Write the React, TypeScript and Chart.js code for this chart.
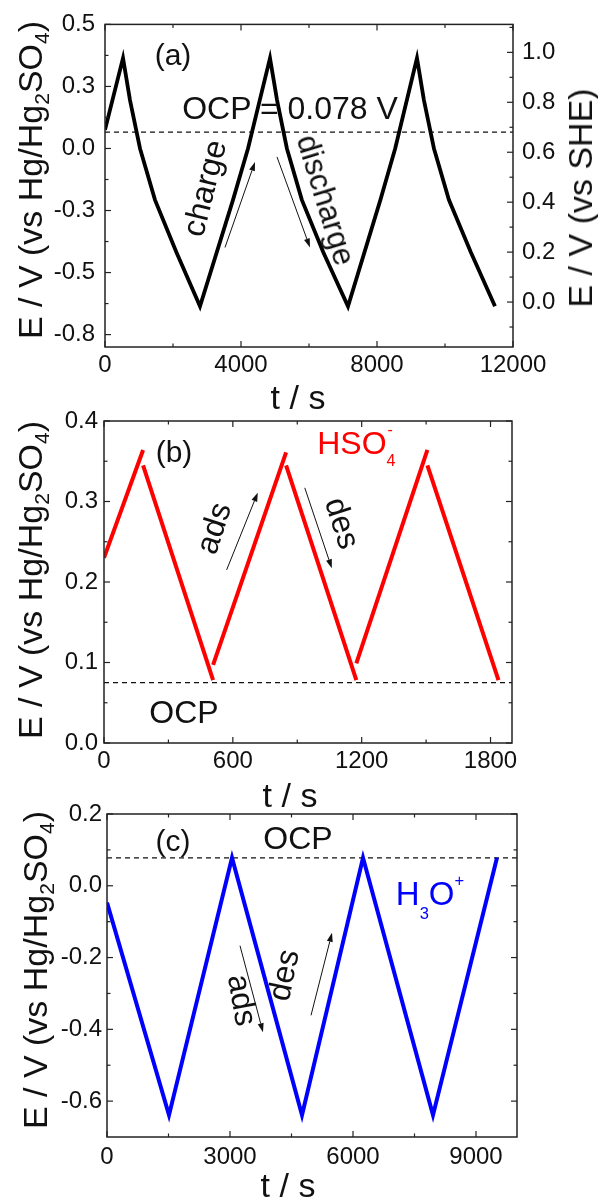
import React, { useEffect, useRef } from "react";
import { Chart, registerables } from "chart.js";

Chart.register(...registerables);

const FONT = "'Liberation Sans', Arial, Helvetica, sans-serif";
const INK = "#111111";

// ---------- Panel (a): charge / discharge ----------
const A_TIME = [0, 530, 735, 1030, 1470, 2100, 2794, 3765, 4206, 4853, 5060, 5350, 5790, 6420, 7147, 8100, 8535, 9176, 9380, 9675, 10115, 10760, 11470];
const A_E = [0.075, 0.364, 0.195, 0.0, -0.207, -0.418, -0.636, -0.207, 0.0, 0.364, 0.195, 0.0, -0.207, -0.418, -0.636, -0.207, 0.0, 0.364, 0.195, 0.0, -0.207, -0.418, -0.636];
const A_OCP = 0.066;
const A_X_TICKS = [0, 4000, 8000, 12000];
const A_X_LABELS = ["0", "4000", "8000", "12000"];
const A_Y_TICKS = [-0.75, -0.5, -0.25, 0, 0.25, 0.5];
const A_Y_LABELS = ["-0.8", "-0.5", "-0.3", "0.0", "0.3", "0.5"];
const A_Y2_TICKS = [0, 0.2, 0.4, 0.6, 0.8, 1.0];
const A_Y2_LABELS = ["0.0", "0.2", "0.4", "0.6", "0.8", "1.0"];
const A_ARROWS = [
  { from: [3529, -0.399], to: [4412, -0.054] },
  { from: [5059, -0.034], to: [6029, -0.399] },
];

// ---------- Panel (b): HSO4- (null = break in the trace) ----------
const B_TIME = [0, 182, 182, 182, 508, 508, 508, 848, 848, 848, 1175, 1175, 1175, 1506, 1506, 1506, 1837];
const B_E = [0.23, 0.364, null, 0.345, 0.078, null, 0.097, 0.361, null, 0.345, 0.078, null, 0.099, 0.364, null, 0.345, 0.078];
const B_OCP = 0.075;
const B_X_TICKS = [0, 600, 1200, 1800];
const B_X_LABELS = ["0", "600", "1200", "1800"];
const B_Y_TICKS = [0, 0.1, 0.2, 0.3, 0.4];
const B_Y_LABELS = ["0.0", "0.1", "0.2", "0.3", "0.4"];
const B_ARROWS = [
  { from: [571, 0.215], to: [716, 0.311] },
  { from: [935, 0.317], to: [1061, 0.217] },
];

// ---------- Panel (c): H3O+ ----------
const C_TIME = [0, 1512, 3049, 4756, 6244, 7951, 9512];
const C_E = [-0.047, -0.639, 0.078, -0.639, 0.078, -0.639, 0.078];
const C_OCP = 0.078;
const C_X_TICKS = [0, 3000, 6000, 9000];
const C_X_LABELS = ["0", "3000", "6000", "9000"];
const C_Y_TICKS = [-0.6, -0.4, -0.2, 0, 0.2];
const C_Y_LABELS = ["-0.6", "-0.4", "-0.2", "0.0", "0.2"];
const C_ARROWS = [
  { from: [3244, -0.167], to: [3805, -0.408] },
  { from: [4976, -0.361], to: [5488, -0.131] },
];

type Arrow = { from: number[]; to: number[] };
type PanelDef = {
  key: string;
  canvasTop: number;
  canvasH: number;
  padTop: number;
  padRight: number;
  leftW: number;
  rightW?: number;
  bottomH: number;
  xPad: number;
  yPad: number;
  y2Pad?: number;
  xMin: number;
  xMax: number;
  xTicks: number[];
  xLabels: string[];
  yMin: number;
  yMax: number;
  yTicks: number[];
  yLabels: string[];
  y2?: { min: number; max: number; ticks: number[]; labels: string[] };
  time: number[];
  values: (number | null)[];
  color: string;
  width: number;
  ocp: number;
  arrows: Arrow[];
};

const PANELS: PanelDef[] = [
  {
    key: "a", canvasTop: 0, canvasH: 400, padTop: 24, padRight: 0, leftW: 105, rightW: 85, bottomH: 53,
    xPad: 4, yPad: 10, y2Pad: 9,
    xMin: 0, xMax: 12000, xTicks: A_X_TICKS, xLabels: A_X_LABELS,
    yMin: -0.8, yMax: 0.5, yTicks: A_Y_TICKS, yLabels: A_Y_LABELS,
    y2: { min: -0.18, max: 1.112, ticks: A_Y2_TICKS, labels: A_Y2_LABELS },
    time: A_TIME, values: A_E, color: "#000000", width: 3.8, ocp: A_OCP, arrows: A_ARROWS,
  },
  {
    key: "b", canvasTop: 400, canvasH: 400, padTop: 21, padRight: 86, leftW: 104, bottomH: 57,
    xPad: 4, yPad: 6,
    xMin: 0, xMax: 1900, xTicks: B_X_TICKS, xLabels: B_X_LABELS,
    yMin: 0, yMax: 0.4, yTicks: B_Y_TICKS, yLabels: B_Y_LABELS,
    time: B_TIME, values: B_E, color: "#ff0000", width: 4, ocp: B_OCP, arrows: B_ARROWS,
  },
  {
    key: "c", canvasTop: 790, canvasH: 411, padTop: 24, padRight: 81, leftW: 107, bottomH: 64,
    xPad: 6, yPad: 5,
    xMin: 0, xMax: 10000, xTicks: C_X_TICKS, xLabels: C_X_LABELS,
    yMin: -0.7, yMax: 0.2, yTicks: C_Y_TICKS, yLabels: C_Y_LABELS,
    time: C_TIME, values: C_E, color: "#0000ff", width: 4, ocp: C_OCP, arrows: C_ARROWS,
  },
];

function minorOf(ticks: number[], min: number, max: number): number[] {
  const step = ticks[1] - ticks[0];
  const out: number[] = [];
  const cands = [ticks[0] - step / 2, ...ticks.map((t) => t + step / 2)];
  for (const c of cands) if (c > min + 1e-9 && c < max - 1e-9) out.push(c);
  return out;
}

function makeFramePlugin(p: PanelDef) {
  return {
    id: "frame" + p.key,
    afterDraw(chart: any) {
      const { ctx, chartArea, scales } = chart;
      const { left, right, top, bottom } = chartArea;
      const MAJ = 6;
      const MIN = 3.5;
      ctx.save();
      const seg = (x1: number, y1: number, x2: number, y2: number) => {
        ctx.beginPath();
        ctx.moveTo(x1, y1);
        ctx.lineTo(x2, y2);
        ctx.stroke();
      };
      ctx.strokeStyle = "#222222";
      ctx.lineWidth = 1.5;
      ctx.strokeRect(left, top, right - left, bottom - top);
      ctx.lineWidth = 1.2;
      const xs = scales.x;
      p.xTicks.forEach((v) => {
        const px = xs.getPixelForValue(v);
        seg(px, bottom, px, bottom - MAJ);
        seg(px, top, px, top + MAJ);
      });
      minorOf(p.xTicks, p.xMin, p.xMax).forEach((v) => {
        const px = xs.getPixelForValue(v);
        seg(px, bottom, px, bottom - MIN);
        seg(px, top, px, top + MIN);
      });
      const ys = scales.y;
      const mirror = !p.y2;
      p.yTicks.forEach((v) => {
        const py = ys.getPixelForValue(v);
        seg(left, py, left + MAJ, py);
        if (mirror) seg(right, py, right - MAJ, py);
      });
      minorOf(p.yTicks, p.yMin, p.yMax).forEach((v) => {
        const py = ys.getPixelForValue(v);
        seg(left, py, left + MIN, py);
        if (mirror) seg(right, py, right - MIN, py);
      });
      if (p.y2) {
        const y2s = scales.y2;
        p.y2.ticks.forEach((v) => {
          const py = y2s.getPixelForValue(v);
          seg(right, py, right - MAJ, py);
        });
        minorOf(p.y2.ticks, p.y2.min, p.y2.max).forEach((v) => {
          const py = y2s.getPixelForValue(v);
          seg(right, py, right - MIN, py);
        });
      }
      // arrows
      ctx.strokeStyle = INK;
      ctx.fillStyle = INK;
      ctx.lineWidth = 1;
      p.arrows.forEach((a) => {
        const x1 = xs.getPixelForValue(a.from[0]);
        const y1 = ys.getPixelForValue(a.from[1]);
        const x2 = xs.getPixelForValue(a.to[0]);
        const y2 = ys.getPixelForValue(a.to[1]);
        const ang = Math.atan2(y2 - y1, x2 - x1);
        const hl = 9;
        const hw = 3;
        const bx = x2 - hl * Math.cos(ang);
        const by = y2 - hl * Math.sin(ang);
        seg(x1, y1, bx, by);
        ctx.beginPath();
        ctx.moveTo(x2, y2);
        ctx.lineTo(bx + hw * Math.sin(ang), by - hw * Math.cos(ang));
        ctx.lineTo(bx - hw * Math.sin(ang), by + hw * Math.cos(ang));
        ctx.closePath();
        ctx.fill();
      });
      ctx.restore();
    },
  };
}

function buildConfig(p: PanelDef): any {
  const tickFont = { family: FONT, size: 24 };
  const scales: any = {
    x: {
      type: "linear",
      position: "bottom",
      min: p.xMin,
      max: p.xMax,
      grid: { display: false, drawTicks: false },
      border: { display: false },
      afterBuildTicks: (s: any) => {
        s.ticks = p.xTicks.map((v) => ({ value: v }));
      },
      afterFit: (s: any) => {
        s.height = p.bottomH;
      },
      ticks: {
        font: tickFont,
        color: INK,
        padding: p.xPad,
        maxRotation: 0,
        autoSkip: false,
        callback: (_v: any, i: number) => p.xLabels[i],
      },
    },
    y: {
      type: "linear",
      position: "left",
      min: p.yMin,
      max: p.yMax,
      grid: { display: false, drawTicks: false },
      border: { display: false },
      afterBuildTicks: (s: any) => {
        s.ticks = p.yTicks.map((v) => ({ value: v }));
      },
      afterFit: (s: any) => {
        s.width = p.leftW;
      },
      ticks: {
        font: tickFont,
        color: INK,
        padding: p.yPad,
        autoSkip: false,
        callback: (_v: any, i: number) => p.yLabels[i],
      },
    },
  };
  if (p.y2) {
    const y2 = p.y2;
    scales.y2 = {
      type: "linear",
      position: "right",
      min: y2.min,
      max: y2.max,
      grid: { display: false, drawTicks: false },
      border: { display: false },
      afterBuildTicks: (s: any) => {
        s.ticks = y2.ticks.map((v) => ({ value: v }));
      },
      afterFit: (s: any) => {
        s.width = p.rightW;
      },
      ticks: {
        font: tickFont,
        color: INK,
        padding: p.y2Pad,
        autoSkip: false,
        callback: (_v: any, i: number) => y2.labels[i],
      },
    };
  }
  return {
    type: "line",
    data: {
      datasets: [
        {
          data: p.time.map((t, i) => ({ x: t, y: p.values[i] })),
          borderColor: p.color,
          borderWidth: p.width,
          pointRadius: 0,
          tension: 0,
          spanGaps: false,
          fill: false,
          yAxisID: "y",
        },
        {
          data: [
            { x: p.xMin, y: p.ocp },
            { x: p.xMax, y: p.ocp },
          ],
          borderColor: INK,
          borderWidth: 1.3,
          borderDash: [5, 4],
          pointRadius: 0,
          fill: false,
          yAxisID: "y",
        },
      ],
    },
    options: {
      responsive: false,
      animation: false,
      devicePixelRatio: 1,
      events: [],
      layout: { padding: { top: p.padTop, right: p.padRight, bottom: 0, left: 0 } },
      plugins: { legend: { display: false }, tooltip: { enabled: false } },
      scales,
    },
    plugins: [makeFramePlugin(p)],
  };
}

function Panel({ def }: { def: PanelDef }) {
  const ref = useRef<HTMLCanvasElement>(null);
  useEffect(() => {
    const chart = new Chart(ref.current as HTMLCanvasElement, buildConfig(def));
    return () => chart.destroy();
  }, [def]);
  return (
    <canvas
      ref={ref}
      width={598}
      height={def.canvasH}
      style={{ position: "absolute", left: 0, top: def.canvasTop, width: 598, height: def.canvasH }}
    />
  );
}

function T(props: { x: number; y: number; rot?: number; size?: number; color?: string; children: any }) {
  const { x, y, rot = 0, size = 32, color = INK, children } = props;
  return (
    <div
      style={{
        position: "absolute",
        left: x,
        top: y,
        transform: `translate(-50%, -50%) rotate(${rot}deg)`,
        fontFamily: FONT,
        fontSize: size,
        lineHeight: 1,
        color,
        whiteSpace: "nowrap",
      }}
    >
      {children}
    </div>
  );
}

const subStyle: any = { fontSize: "0.62em", verticalAlign: "-0.32em", lineHeight: 0 };
const smallSub: any = { fontSize: "0.5em", verticalAlign: "-0.8em", lineHeight: 0 };
const smallSup: any = { fontSize: "0.5em", verticalAlign: "1.2em", lineHeight: 0 };

const LeftTitle = () => (
  <span>
    E / V (vs Hg/Hg<span style={subStyle}>2</span>SO<span style={subStyle}>4</span>)
  </span>
);

export default function App() {
  return (
    <div style={{ position: "absolute", left: 0, top: 0, width: 598, height: 1201, background: "#fff", overflow: "hidden" }}>
      {PANELS.map((p) => (
        <Panel key={p.key} def={p} />
      ))}

      {/* Axis titles */}
      <T x={30} y={180} rot={-90} size={34}><LeftTitle /></T>
      <T x={580} y={198} rot={-90} size={34}>E / V (vs SHE)</T>
      <T x={298} y={397} size={34}>t / s</T>
      <T x={30} y={580} rot={-90} size={34}><LeftTitle /></T>
      <T x={290} y={795} size={34}>t / s</T>
      <T x={35} y={970} rot={-90} size={34}><LeftTitle /></T>
      <T x={288} y={1185} size={34}>t / s</T>

      {/* Panel (a) annotations */}
      <T x={173} y={55} size={30}>(a)</T>
      <T x={290} y={108} size={32}>OCP = 0.078 V</T>
      <T x={204} y={188} rot={-76} size={32}>charge</T>
      <T x={326} y={200} rot={73} size={31}>discharge</T>

      {/* Panel (b) annotations */}
      <T x={355} y={444} size={32} color="#ff0000">
        HSO<span style={smallSub}>4</span>
        <span style={{ ...smallSup, marginLeft: "-0.5em" }}>-</span>
      </T>
      <T x={174} y={452} size={30}>(b)</T>
      <T x={213} y={528} rot={-72} size={32}>ads</T>
      <T x={343} y={523} rot={72} size={32}>des</T>
      <T x={184} y={712} size={32}>OCP</T>

      {/* Panel (c) annotations */}
      <T x={173} y={841} size={30}>(c)</T>
      <T x={298} y={838} size={32}>OCP</T>
      <T x={430} y={895} size={33} color="#0000ff">
        H<span style={smallSub}>3</span>O<span style={smallSup}>+</span>
      </T>
      <T x={243} y={1000} rot={80} size={32}>ads</T>
      <T x={283} y={975} rot={-78} size={32}>des</T>
    </div>
  );
}
